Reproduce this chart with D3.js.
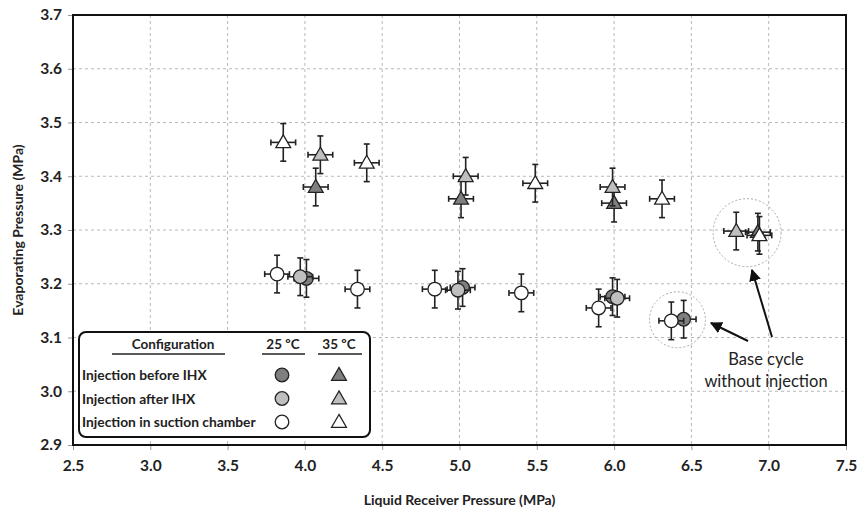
<!DOCTYPE html>
<html><head><meta charset="utf-8">
<script src="https://cdn.jsdelivr.net/npm/d3@7"></script>
<style>
body{margin:0;background:#fff;}
svg{display:block;font-family:Lato,"Open Sans",sans-serif;}
</style></head>
<body><svg id="c" width="861" height="519"></svg>
<script>
// ---- data ----
const xTicks = [2.5,3.0,3.5,4.0,4.5,5.0,5.5,6.0,6.5,7.0,7.5];
const yTicks = [2.9,3.0,3.1,3.2,3.3,3.4,3.5,3.6,3.7];
const before25  = [[4.01,3.210],[5.02,3.193],[5.99,3.176],[6.45,3.134]];
const after25   = [[3.97,3.213],[4.99,3.188],[6.02,3.173]];
const suction25 = [[3.82,3.218],[4.34,3.190],[4.84,3.190],[5.40,3.183],[5.90,3.155],[6.37,3.131]];
const before35  = [[4.07,3.380],[5.01,3.358],[6.00,3.350],[6.93,3.296]];
const after35   = [[4.10,3.440],[5.04,3.400],[5.99,3.380],[6.79,3.298]];
const suction35 = [[3.86,3.463],[4.40,3.425],[5.49,3.387],[6.31,3.358],[6.94,3.290]];
const xErr = 0.08, yErr = 0.035;
const legendRows = ["Injection before IHX","Injection after IHX","Injection in suction chamber"];
const fills = ["#7f7f7f","#bfbfbf","#ffffff"];

const svg = d3.select("#c");
const L=73,R=846,T=15,B=445;
const x = d3.scaleLinear().domain([2.5,7.5]).range([L,R]);
const y = d3.scaleLinear().domain([2.9,3.7]).range([B,T]);

// grid
const g = svg.append("g");
g.selectAll(".vg").data(xTicks.slice(1,-1)).enter().append("line")
 .attr("x1",d=>x(d)).attr("x2",d=>x(d)).attr("y1",T).attr("y2",B)
 .attr("stroke","#b8b8b8").attr("stroke-dasharray","3,3").attr("stroke-width",1);
g.selectAll(".hg").data(yTicks.slice(1,-1)).enter().append("line")
 .attr("y1",d=>y(d)).attr("y2",d=>y(d)).attr("x1",L).attr("x2",R)
 .attr("stroke","#b8b8b8").attr("stroke-dasharray","3,3").attr("stroke-width",1);

// axes
const xAxis = svg.append("g").attr("transform",`translate(0,${B})`)
 .call(d3.axisBottom(x).tickValues(xTicks).tickFormat(d3.format(".1f")).tickSize(5).tickPadding(10));
const yAxis = svg.append("g").attr("transform",`translate(${L},0)`)
 .call(d3.axisLeft(y).tickValues(yTicks).tickFormat(d3.format(".1f")).tickSize(5).tickPadding(6));
[xAxis,yAxis].forEach(a=>{
  a.select(".domain").remove();
  a.selectAll(".tick line").attr("stroke","#999");
  a.selectAll(".tick text").attr("font-size",15.5).attr("font-weight","bold").attr("fill","#222")
   .attr("font-family","Lato,'Open Sans',sans-serif");
});
svg.append("rect").attr("x",L).attr("y",T).attr("width",R-L).attr("height",B-T)
 .attr("fill","none").attr("stroke","#111").attr("stroke-width",2);

svg.append("text").attr("x",(L+R)/2).attr("y",505).attr("text-anchor","middle")
 .attr("font-size",14).attr("font-weight","bold").attr("fill","#222").text("Liquid Receiver Pressure (MPa)");
svg.append("text").attr("transform",`translate(23,${(T+B)/2}) rotate(-90)`).attr("text-anchor","middle")
 .attr("font-size",14).attr("font-weight","bold").attr("fill","#222").text("Evaporating Pressure (MPa)");

// base-cycle circles
svg.append("circle").attr("cx",x(6.86)).attr("cy",y(3.295)).attr("r",34)
 .attr("fill","none").attr("stroke","#aaa").attr("stroke-dasharray","2,2").attr("stroke-width",1);
svg.append("circle").attr("cx",x(6.41)).attr("cy",y(3.133)).attr("r",28)
 .attr("fill","none").attr("stroke","#aaa").attr("stroke-dasharray","2,2").attr("stroke-width",1);

// error bars + markers
const tri = d3.symbol().type(d3.symbolTriangle).size(95);
function series(data, fill, shape){
  const gg = svg.append("g");
  data.forEach(([vx,vy])=>{
    const cx=x(vx), cy=y(vy);
    const x1=x(vx-xErr), x2=x(vx+xErr), y1=y(vy+yErr), y2=y(vy-yErr);
    const e = gg.append("g").attr("stroke","#222").attr("stroke-width",1.6);
    e.append("line").attr("x1",x1).attr("x2",x2).attr("y1",cy).attr("y2",cy);
    e.append("line").attr("x1",cx).attr("x2",cx).attr("y1",y1).attr("y2",y2);
    e.append("line").attr("x1",x1).attr("x2",x1).attr("y1",cy-3).attr("y2",cy+3);
    e.append("line").attr("x1",x2).attr("x2",x2).attr("y1",cy-3).attr("y2",cy+3);
    e.append("line").attr("x1",cx-3).attr("x2",cx+3).attr("y1",y1).attr("y2",y1);
    e.append("line").attr("x1",cx-3).attr("x2",cx+3).attr("y1",y2).attr("y2",y2);
    if(shape==="c"){
      gg.append("circle").attr("cx",cx).attr("cy",cy).attr("r",6.8)
        .attr("fill",fill).attr("stroke","#222").attr("stroke-width",1.3);
    } else {
      gg.append("path").attr("d",tri).attr("transform",`translate(${cx},${cy+1})`)
        .attr("fill",fill).attr("stroke","#222").attr("stroke-width",1.3);
    }
  });
}
series(before25,fills[0],"c");
series(after25,fills[1],"c");
series(suction25,fills[2],"c");
series(before35,fills[0],"t");
series(after35,fills[1],"t");
series(suction35,fills[2],"t");

// annotation
svg.append("defs").append("marker").attr("id","ah").attr("viewBox","0 0 10 10")
 .attr("refX",9).attr("refY",5).attr("markerWidth",6).attr("markerHeight",6).attr("orient","auto")
 .append("path").attr("d","M0,0 L10,5 L0,10 z").attr("fill","#111");
svg.append("line").attr("x1",748).attr("y1",341).attr("x2",711).attr("y2",323)
 .attr("stroke","#111").attr("stroke-width",2).attr("marker-end","url(#ah)");
svg.append("line").attr("x1",772).attr("y1",337).attr("x2",752).attr("y2",270)
 .attr("stroke","#111").attr("stroke-width",2).attr("marker-end","url(#ah)");
svg.append("text").attr("x",766).attr("y",365).attr("text-anchor","middle").attr("font-size",16.5)
 .attr("fill","#222").text("Base cycle");
svg.append("text").attr("x",766).attr("y",387).attr("text-anchor","middle").attr("font-size",16.5)
 .attr("fill","#222").text("without injection");

// legend
const lg = svg.append("g");
lg.append("rect").attr("x",79).attr("y",332).attr("width",291).attr("height",105).attr("rx",7)
 .attr("fill","#fff").attr("stroke","#111").attr("stroke-width",2);
const hdr = [["Configuration",173,112,225],["25 ºC",283,262,305],["35 ºC",339,318,362]];
hdr.forEach(([t,cx,a,b])=>{
  lg.append("text").attr("x",cx).attr("y",349).attr("text-anchor","middle").attr("font-size",13.5)
    .attr("font-weight","bold").attr("fill","#222").text(t);
  lg.append("line").attr("x1",a).attr("x2",b).attr("y1",354).attr("y2",354).attr("stroke","#222").attr("stroke-width",1.3);
});
legendRows.forEach((t,i)=>{
  const yy = 375 + i*23.5;
  lg.append("text").attr("x",82).attr("y",yy+5).attr("font-size",13.8).attr("font-weight","bold")
    .attr("fill","#222").text(t);
  lg.append("circle").attr("cx",282).attr("cy",yy).attr("r",6.8).attr("fill",fills[i])
    .attr("stroke","#222").attr("stroke-width",1.3);
  lg.append("path").attr("d",tri).attr("transform",`translate(339,${yy+1})`).attr("fill",fills[i])
    .attr("stroke","#222").attr("stroke-width",1.3);
});
</script></body></html>
